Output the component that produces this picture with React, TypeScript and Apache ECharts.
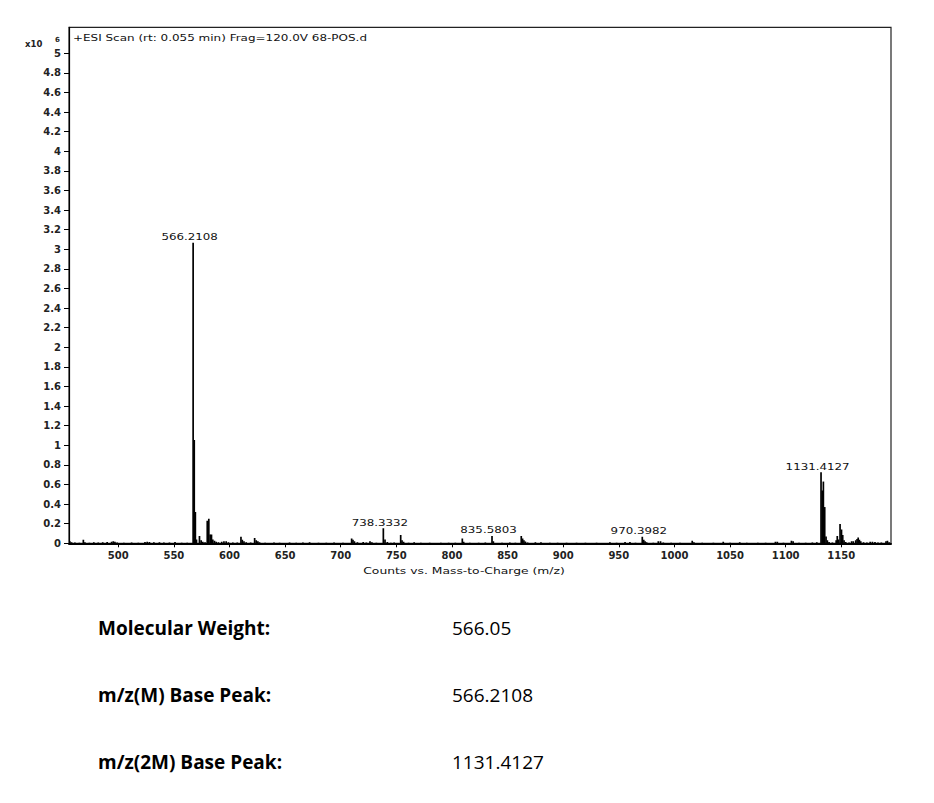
import React, { useEffect, useRef } from "react";
import * as echarts from "echarts";

// m/z values of the spectrum sticks
const MZ = [
  456.5, 458, 461, 465, 468.6, 470, 474, 478, 482, 486, 490, 494, 495.5, 497, 499,
  505, 512, 518, 524, 526, 528, 532, 537, 541, 546, 551, 557, 562,
  567.3, 568.3, 569.3, 570.3, 573.0, 574.5, 576, 578, 580.0, 581.4, 582.6, 583.8,
  585, 586.5, 588, 590, 593, 595, 597, 599, 603, 607, 610.3, 611.5, 613, 615, 619,
  622.6, 624, 625.5, 627, 632, 640, 645, 654, 660, 666, 672, 680, 687, 694, 702,
  709.8, 711, 712.3, 715, 720.2, 723, 726.3, 728, 732, 738.3, 739.8, 741.9, 745, 748,
  753.9, 755.1, 756.5, 761, 766, 772, 780, 790, 797, 803, 809.3, 810.5, 816, 824, 830,
  836.0, 837.2, 845, 852, 857, 862.3, 863.5, 864.7, 866, 868, 875, 880, 888, 895, 903,
  912, 920, 930, 942, 948, 955.6, 960, 965, 971.1, 972.4, 973.6, 975, 981, 985.5,
  987.5, 990, 997, 1005, 1016, 1017.5, 1025, 1035, 1043.9, 1050, 1058.7, 1065, 1075,
  1082, 1090.8, 1092.5, 1098, 1105.2, 1106.7, 1112, 1118, 1124, 1128,
  1131.8, 1132.8, 1133.9, 1135.1, 1136.3, 1137.5, 1139, 1142, 1145.4, 1146.4, 1147.5,
  1148.9, 1150.2, 1151.3, 1152.5, 1154, 1157, 1159.3, 1160.8, 1163, 1164.2, 1165.2,
  1166.3, 1167.5, 1170, 1173, 1176, 1178, 1180.3, 1183, 1186, 1190.2, 1191.5, 1193,
];

// intensities, in units of 10^6 counts
const INTENSITY = [
  0.02, 0.01, 0.008, 0.006, 0.035, 0.01, 0.006, 0.01, 0.008, 0.01, 0.012, 0.015, 0.022, 0.015, 0.008,
  0.006, 0.008, 0.006, 0.012, 0.015, 0.012, 0.01, 0.01, 0.008, 0.008, 0.012, 0.006, 0.006,
  3.067, 1.054, 0.32, 0.04, 0.074, 0.03, 0.015, 0.01, 0.23, 0.25, 0.09, 0.09,
  0.04, 0.025, 0.015, 0.01, 0.015, 0.02, 0.02, 0.01, 0.008, 0.008, 0.068, 0.035, 0.02, 0.01, 0.008,
  0.055, 0.03, 0.02, 0.01, 0.006, 0.008, 0.006, 0.008, 0.006, 0.008, 0.01, 0.006, 0.006, 0.008, 0.006,
  0.05, 0.035, 0.02, 0.01, 0.012, 0.008, 0.022, 0.01, 0.006, 0.153, 0.04, 0.012, 0.006, 0.008,
  0.085, 0.03, 0.015, 0.006, 0.01, 0.006, 0.006, 0.006, 0.006, 0.006, 0.05, 0.015, 0.006, 0.006, 0.008,
  0.075, 0.02, 0.006, 0.008, 0.006, 0.075, 0.05, 0.03, 0.018, 0.008, 0.01, 0.01, 0.006, 0.006, 0.006,
  0.006, 0.006, 0.006, 0.01, 0.006, 0.012, 0.012, 0.006, 0.068, 0.035, 0.02, 0.01, 0.006, 0.02,
  0.02, 0.008, 0.006, 0.006, 0.025, 0.01, 0.006, 0.006, 0.015, 0.006, 0.01, 0.006, 0.006,
  0.006, 0.015, 0.015, 0.006, 0.025, 0.02, 0.006, 0.006, 0.008, 0.01,
  0.724, 0.54, 0.63, 0.37, 0.07, 0.03, 0.012, 0.008, 0.03, 0.075, 0.04,
  0.197, 0.14, 0.085, 0.03, 0.012, 0.008, 0.02, 0.02, 0.03, 0.045, 0.06,
  0.035, 0.02, 0.01, 0.008, 0.015, 0.015, 0.012, 0.008, 0.008, 0.02, 0.025, 0.01,
];

const PEAK_LABEL_MZ = [567.3, 738.3, 836.0, 971.1, 1131.8];
const PEAK_LABEL_TEXT = ["566.2108", "738.3332", "835.5803", "970.3982", "1131.4127"];

const X_TICKS = [500, 550, 600, 650, 700, 750, 800, 850, 900, 950, 1000, 1050, 1100, 1150];
const Y_TICKS = [0, 0.2, 0.4, 0.6, 0.8, 1, 1.2, 1.4, 1.6, 1.8, 2, 2.2, 2.4, 2.6, 2.8, 3, 3.2, 3.4,
  3.6, 3.8, 4, 4.2, 4.4, 4.6, 4.8, 5];

const X_MIN = 455.7;
const X_MAX = 1194.7;
const Y_MAX = 5.265;

const TITLE = "+ESI Scan (rt: 0.055 min) Frag=120.0V 68-POS.d";
const X_NAME = "Counts vs. Mass-to-Charge (m/z)";

const INFO_LABELS = ["Molecular Weight:", "m/z(M) Base Peak:", "m/z(2M) Base Peak:"];
const INFO_VALUES = ["566.05", "566.2108", "1131.4127"];

export default function App() {
  const ref = useRef<HTMLDivElement>(null);

  useEffect(() => {
    if (!ref.current) return;
    const chart = echarts.init(ref.current, undefined, { renderer: "svg" });

    const sticks = MZ.map((m, i) => [m, INTENSITY[i]]);
    const labelData = PEAK_LABEL_MZ.map((m, i) => {
      const idx = MZ.indexOf(m);
      return [m, INTENSITY[idx], PEAK_LABEL_TEXT[i]];
    });

    const graphics: any[] = [
      {
        type: "text",
        x: 25,
        y: 43.5,
        style: { text: "x10", fontFamily: "DejaVu Sans", fontWeight: "bold", fontSize: 8.5, fill: "#222", verticalAlign: "middle" },
      },
      {
        type: "text",
        x: 55,
        y: 40.3,
        style: { text: "6", fontFamily: "DejaVu Sans", fontWeight: "bold", fontSize: 7, fill: "#222", verticalAlign: "middle" },
      },
      {
        type: "text",
        x: 73,
        y: 37.5,
        scaleX: 1.41,
        style: { text: TITLE, fontFamily: "DejaVu Sans", fontSize: 8.5, fill: "#111", verticalAlign: "middle" },
      },
      {
        type: "text",
        x: 464,
        y: 571,
        scaleX: 1.3,
        style: { text: X_NAME, fontFamily: "DejaVu Sans", fontSize: 9.5, fill: "#111", align: "center", verticalAlign: "middle" },
      },
    ];
    const rowY = [628, 695, 762];
    INFO_LABELS.forEach((t, i) => {
      graphics.push({
        type: "text",
        x: 98,
        y: rowY[i],
        style: { text: t, fontFamily: "Open Sans", fontWeight: "bold", fontSize: 19, fill: "#000", verticalAlign: "middle" },
      });
      graphics.push({
        type: "text",
        x: 452,
        y: rowY[i],
        style: { text: INFO_VALUES[i], fontFamily: "Open Sans", fontSize: 19, fill: "#000", verticalAlign: "middle" },
      });
    });

    const labelStyle = { fontFamily: "DejaVu Sans", fontWeight: "bold" as const, fontSize: 10, color: "#222" };

    chart.setOption({
      animation: false,
      backgroundColor: "#fff",
      grid: {
        left: 69,
        top: 27.3,
        width: 822,
        height: 516,
        show: true,
        borderColor: "#222",
        borderWidth: 1.2,
        backgroundColor: "transparent",
      },
      xAxis: {
        type: "value",
        min: X_MIN,
        max: X_MAX,
        axisLine: { show: true, onZero: false, lineStyle: { color: "#000", width: 2 } },
        axisTick: { show: true, length: 4, customValues: X_TICKS, lineStyle: { color: "#000", width: 1 } },
        axisLabel: { ...labelStyle, customValues: X_TICKS, margin: 7, formatter: (v: number) => `${v}` },
        splitLine: { show: false },
      },
      yAxis: {
        type: "value",
        min: 0,
        max: Y_MAX,
        axisLine: { show: true, lineStyle: { color: "#000", width: 1.2 } },
        axisTick: { show: true, length: 5, customValues: Y_TICKS, lineStyle: { color: "#000", width: 1 } },
        axisLabel: { ...labelStyle, customValues: Y_TICKS, margin: 8, formatter: (v: number) => `${v}` },
        splitLine: { show: false },
      },
      graphic: graphics,
      series: [
        {
          type: "custom",
          name: "spectrum",
          clip: true,
          data: sticks,
          renderItem: (params: any, api: any) => {
            const x = api.value(0);
            const y = api.value(1);
            const top = api.coord([x, y]);
            const base = api.coord([x, 0]);
            const w = 1.7;
            return {
              type: "rect",
              shape: { x: top[0] - w / 2, y: top[1], width: w, height: Math.max(base[1] - top[1], 0.8) },
              style: { fill: "#000" },
            };
          },
        },
        {
          type: "custom",
          name: "peak labels",
          data: labelData,
          renderItem: (params: any, api: any) => {
            const x = api.value(0);
            const y = api.value(1);
            const top = api.coord([x, y]);
            return {
              type: "text",
              x: top[0] - 3.5,
              y: top[1] - 1.5,
              scaleX: 1.39,
              style: {
                text: PEAK_LABEL_TEXT[params.dataIndex],
                fontFamily: "DejaVu Sans",
                fontSize: 8.5,
                fill: "#111",
                align: "center",
                verticalAlign: "bottom",
              },
            };
          },
        },
      ],
    });

    return () => chart.dispose();
  }, []);

  return (
    <div
      ref={ref}
      style={{ position: "absolute", left: 0, top: 0, width: 934, height: 803, background: "#fff" }}
    />
  );
}
